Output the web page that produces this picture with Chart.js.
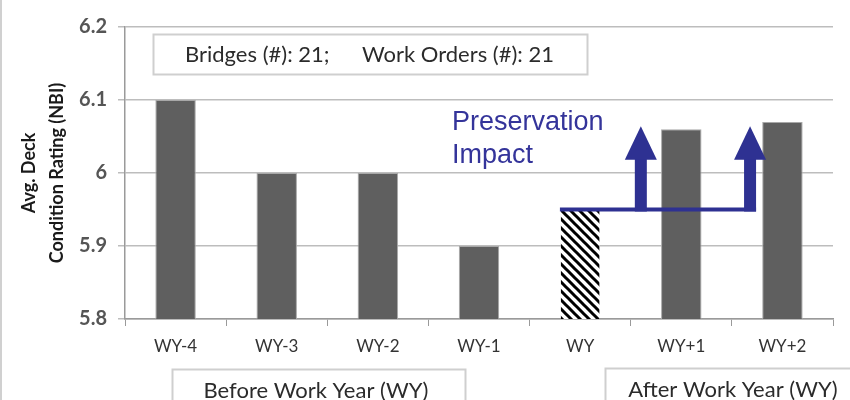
<!DOCTYPE html>
<html>
<head>
<meta charset="utf-8">
<script src="https://cdn.jsdelivr.net/npm/chart.js@4.4.1/dist/chart.umd.min.js"></script>
<style>
  body { margin: 0; background: #fff; }
  canvas { display: block; }
</style>
</head>
<body>
<canvas id="deck" width="850" height="400"></canvas>
<script>
const years = ['WY-4', 'WY-3', 'WY-2', 'WY-1', 'WY', 'WY+1', 'WY+2'];
const avgRating = [6.1, 6.0, 6.0, 5.9, 5.95, 6.06, 6.07];
const yTicks = [5.8, 5.9, 6.0, 6.1, 6.2];
const yTitle = ['Avg. Deck', 'Condition Rating (NBI)'];
const countText = ['Bridges (#): 21;', 'Work Orders (#): 21'];
const periodText = ['Before Work Year (WY)', 'After Work Year (WY)'];
const impactText = ['Preservation', 'Impact'];
// arrow head tip / neck, in rating units
const arrowTop = 6.064, arrowNeck = 6.018;

const cv = document.getElementById('deck');
const c2d = cv.getContext('2d');

// diagonal hatch for the work year bar
function hatch() {
  const c = document.createElement('canvas');
  c.width = 9; c.height = 9;
  const g = c.getContext('2d');
  g.fillStyle = '#fff'; g.fillRect(0, 0, 9, 9);
  g.strokeStyle = '#000'; g.lineWidth = 3;
  g.beginPath();
  g.moveTo(-2, -2); g.lineTo(11, 11);
  g.moveTo(-2, 7); g.lineTo(2, 11);
  g.moveTo(7, -2); g.lineTo(11, 2);
  g.stroke();
  return c2d.createPattern(c, 'repeat');
}

const fills = years.map((y, i) => i === 4 ? hatch() : '#5f5f5f');
const edges = years.map((y, i) => i === 4 ? 'rgba(0,0,0,0)' : '#a8a8a8');

const extras = {
  id: 'extras',
  afterDatasetsDraw(chart) {
    const { ctx, scales: { x, y } } = chart;
    const bar = chart.getDatasetMeta(0).data[4];
    const cw = x.getPixelForValue(1) - x.getPixelForValue(0);
    const a1 = x.getPixelForValue(4) + cw * 0.6;
    const a2 = x.getPixelForValue(5) + cw * 0.68;
    const base = y.getPixelForValue(avgRating[4]);
    const tip = y.getPixelForValue(arrowTop);
    const neck = y.getPixelForValue(arrowNeck);
    ctx.save();
    ctx.fillStyle = ctx.strokeStyle = '#2e3192';
    ctx.lineWidth = 4;
    ctx.beginPath();
    ctx.moveTo(bar.x - bar.width / 2, base);
    ctx.lineTo(a2 + 6, base);
    ctx.stroke();
    [a1, a2].forEach(ax => {
      ctx.fillRect(ax - 6, neck - 1, 12, base - neck + 3);
      ctx.beginPath();
      ctx.moveTo(ax - 16, neck);
      ctx.lineTo(ax, tip);
      ctx.lineTo(ax + 16, neck);
      ctx.closePath();
      ctx.fill();
    });
    ctx.font = '27px "Liberation Sans", Arial, sans-serif';
    ctx.fillStyle = '#34349a';
    ctx.textBaseline = 'alphabetic';
    ctx.fillText(impactText[0], 452, 130);
    ctx.fillText(impactText[1], 452, 163);
    ctx.restore();
  },
  afterDraw(chart) {
    const ctx = chart.ctx;
    ctx.save();
    ctx.strokeStyle = '#d0d0d0';
    ctx.lineWidth = 2;
    ctx.beginPath(); ctx.moveTo(1, 0); ctx.lineTo(1, 400); ctx.stroke();
    ctx.strokeStyle = '#cfcfcf';
    ctx.strokeRect(153.5, 34.5, 434, 40);
    ctx.strokeRect(172.5, 369.5, 293, 40);
    ctx.strokeRect(605.5, 368.5, 260, 40);
    ctx.fillStyle = '#2b2b2b';
    ctx.font = '22px Lato, "Open Sans", sans-serif';
    ctx.textBaseline = 'middle';
    ctx.textAlign = 'left';
    ctx.fillText(countText[0], 185, 55);
    ctx.fillText(countText[1], 362, 55);
    ctx.textAlign = 'center';
    ctx.fillText(periodText[0], 316, 391);
    ctx.fillText(periodText[1], 733, 390);
    ctx.restore();
  }
};

new Chart(cv, {
  type: 'bar',
  data: {
    labels: years,
    datasets: [{
      data: avgRating,
      backgroundColor: fills,
      borderColor: edges,
      borderWidth: 1,
      barPercentage: 0.4,
      categoryPercentage: 1
    }]
  },
  options: {
    responsive: false,
    animation: false,
    layout: { padding: { top: 27, right: 17, left: 0, bottom: 0 } },
    plugins: { legend: { display: false }, tooltip: { enabled: false } },
    scales: {
      x: {
        afterFit(s) { s.height = 81; },
        grid: { drawOnChartArea: false, offset: true, color: '#9a9a9a', tickLength: 7 },
        border: { color: '#9a9a9a', width: 1.5 },
        ticks: { color: '#333', padding: 10, font: { family: 'Lato', size: 17 } }
      },
      y: {
        min: 5.8,
        max: 6.2,
        afterFit(s) { s.width = 125; },
        afterBuildTicks(s) { s.ticks = yTicks.map(v => ({ value: v })); },
        grid: { color: '#bdbdbd', lineWidth: 1.5, tickLength: 7 },
        border: { color: '#9a9a9a', width: 1.5 },
        ticks: {
          color: '#555',
          padding: 11,
          font: { family: 'Lato', size: 20, weight: 'bold' },
          callback: v => String(+(+v).toFixed(1))
        },
        title: {
          display: true,
          text: yTitle,
          color: '#1a1a1a',
          padding: { top: 15, bottom: 0 },
          font: { family: 'Lato', size: 18, weight: 'bold', lineHeight: 1.55 }
        }
      }
    }
  },
  plugins: [extras]
});
</script>
</body>
</html>
